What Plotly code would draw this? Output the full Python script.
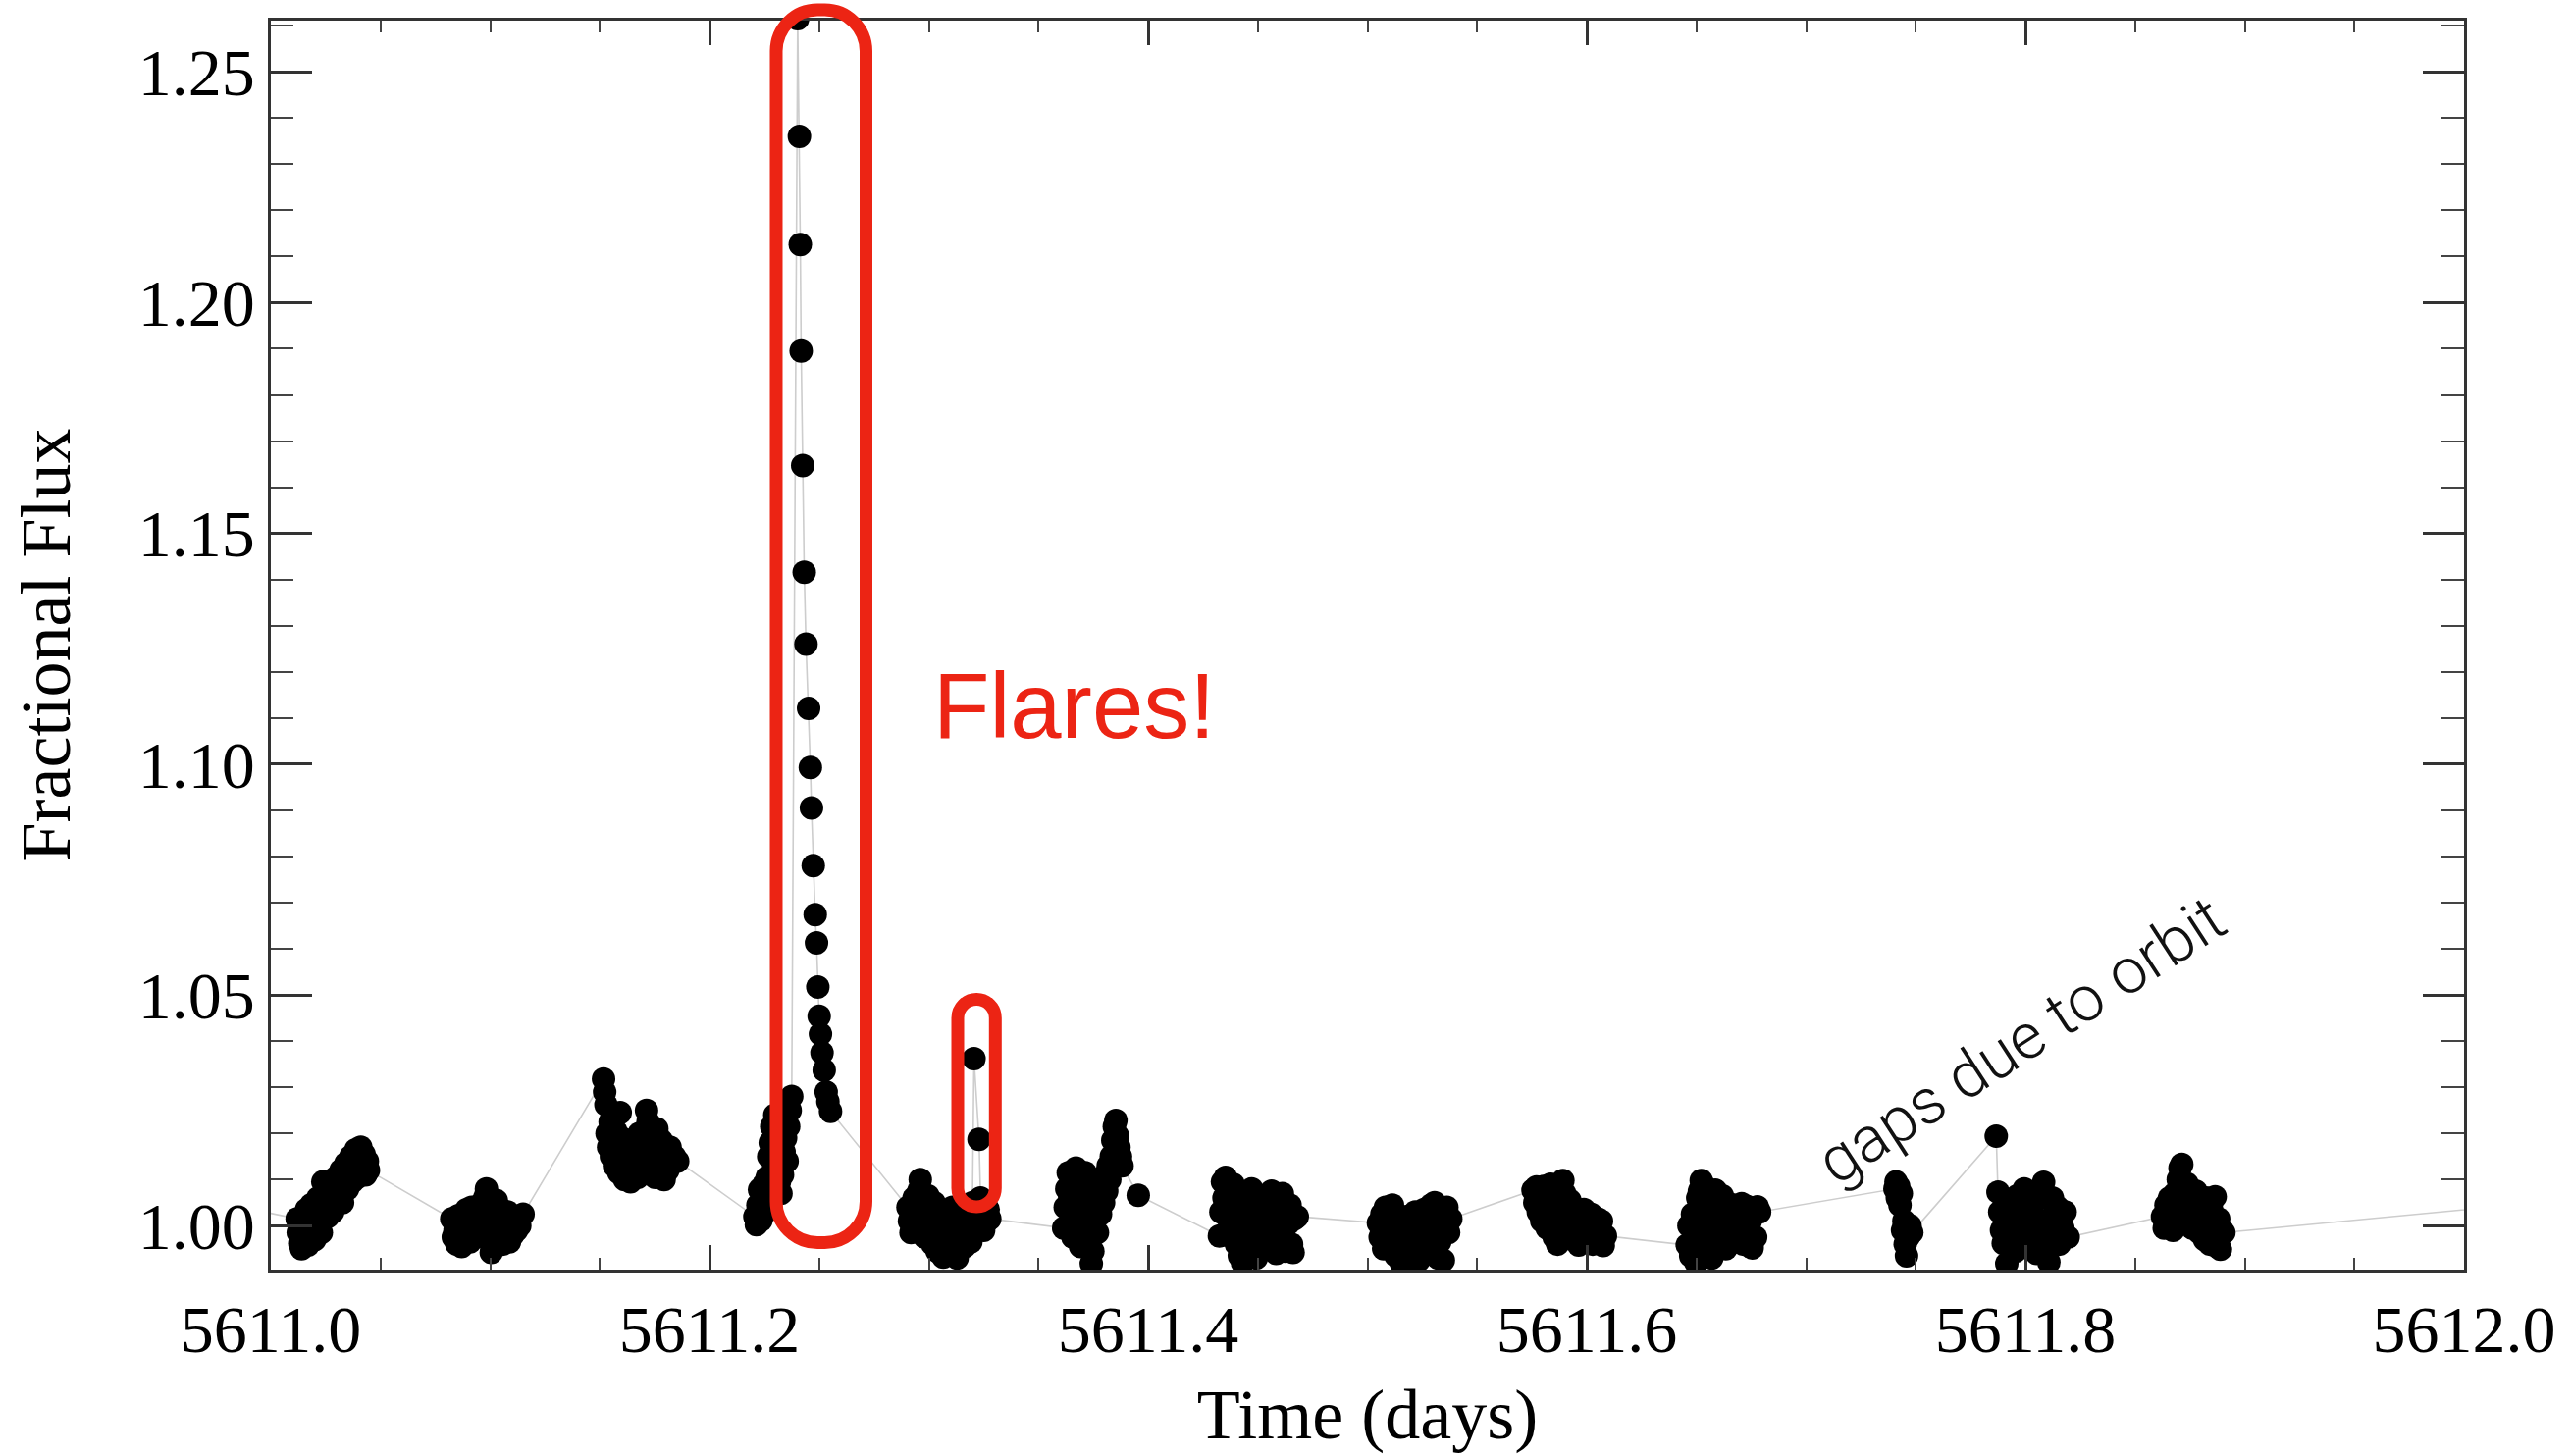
import plotly.graph_objects as go

T0 = 5611.0  # time offset (days)

# ---- light-curve data (time offset from T0, fractional flux) ----
dt_seg0 = [-0.0400]
f_seg0 = [1.0067]

dt_seg1 = [0.0120, 0.0125, 0.0132, 0.0140, 0.0148, 0.0155, 0.0163, 0.0170, 0.0178, 0.0185,
           0.0193, 0.0200, 0.0208, 0.0215, 0.0222, 0.0230, 0.0237, 0.0245, 0.0252, 0.0260,
           0.0267, 0.0275, 0.0282, 0.0290, 0.0297, 0.0305, 0.0312, 0.0320, 0.0327, 0.0335,
           0.0342, 0.0350, 0.0357, 0.0365, 0.0372, 0.0380, 0.0388, 0.0395, 0.0402, 0.0410,
           0.0418, 0.0425, 0.0432, 0.0440, 0.0445]
f_seg1 = [1.0015, 0.9985, 0.9962, 0.9950, 1.0020, 0.9978, 1.0035, 0.9958, 1.0008, 1.0046,
          0.9990, 0.9970, 1.0030, 1.0060, 1.0012, 0.9985, 1.0095, 1.0040, 1.0070, 1.0020,
          1.0055, 1.0090, 1.0030, 1.0075, 1.0105, 1.0060, 1.0085, 1.0120, 1.0050, 1.0095,
          1.0135, 1.0080, 1.0110, 1.0150, 1.0095, 1.0130, 1.0165, 1.0105, 1.0140, 1.0170,
          1.0125, 1.0155, 1.0110, 1.0140, 1.0120]

dt_seg2 = [0.0825, 0.0832, 0.0840, 0.0848, 0.0855, 0.0863, 0.0870, 0.0878, 0.0885, 0.0893,
           0.0900, 0.0908, 0.0915, 0.0923, 0.0930, 0.0938, 0.0945, 0.0953, 0.0960, 0.0968,
           0.0975, 0.0983, 0.0990, 0.0998, 0.1005, 0.1013, 0.1020, 0.1028, 0.1035, 0.1043,
           0.1050, 0.1058, 0.1065, 0.1073, 0.1080, 0.1088, 0.1095, 0.1103, 0.1110, 0.1120,
           0.1135, 0.1150]
f_seg2 = [1.0015, 0.9975, 0.9990, 0.9960, 1.0022, 0.9985, 0.9955, 1.0010, 0.9975, 1.0035,
          0.9995, 0.9965, 1.0040, 1.0005, 0.9980, 1.0025, 0.9990, 1.0045, 1.0010, 0.9975,
          1.0060, 1.0080, 1.0020, 0.9985, 0.9942, 1.0030, 0.9995, 1.0055, 1.0005, 0.9970,
          1.0035, 0.9960, 1.0015, 0.9990, 1.0030, 0.9965, 1.0005, 0.9980, 1.0010, 0.9990,
          1.0000, 1.0025]

dt_seg3 = [0.1517, 0.1522, 0.1528, 0.1533, 0.1540, 0.1547, 0.1553, 0.1560, 0.1567, 0.1573,
           0.1580, 0.1587, 0.1593, 0.1600, 0.1607, 0.1613, 0.1620, 0.1627, 0.1633, 0.1640,
           0.1647, 0.1653, 0.1660, 0.1667, 0.1673, 0.1680, 0.1687, 0.1693, 0.1700, 0.1707,
           0.1713, 0.1720, 0.1727, 0.1733, 0.1740, 0.1747, 0.1753, 0.1760, 0.1767, 0.1773,
           0.1780, 0.1787, 0.1793, 0.1800, 0.1810, 0.1820, 0.1830, 0.1840, 0.1855]
f_seg3 = [1.0318, 1.0290, 1.0262, 1.0200, 1.0170, 1.0225, 1.0150, 1.0185, 1.0130, 1.0205,
          1.0160, 1.0115, 1.0245, 1.0190, 1.0140, 1.0100, 1.0175, 1.0125, 1.0160, 1.0095,
          1.0135, 1.0180, 1.0115, 1.0150, 1.0105, 1.0200, 1.0140, 1.0118, 1.0165, 1.0130,
          1.0250, 1.0225, 1.0170, 1.0120, 1.0190, 1.0145, 1.0105, 1.0210, 1.0160, 1.0125,
          1.0185, 1.0140, 1.0100, 1.0160, 1.0120, 1.0170, 1.0135, 1.0150, 1.0140]

# pre-flare part of the fourth orbit segment
dt_seg4 = [0.2207, 0.2214, 0.2221, 0.2228, 0.2235, 0.2242, 0.2249, 0.2256, 0.2263, 0.2270,
           0.2277, 0.2284, 0.2291, 0.2298, 0.2305, 0.2312, 0.2319, 0.2326, 0.2333, 0.2340,
           0.2347, 0.2354, 0.2361, 0.2368, 0.2375]
f_seg4 = [1.0020, 1.0002, 1.0045, 1.0078, 1.0012, 1.0060, 1.0090, 1.0030, 1.0105, 1.0150,
          1.0180, 1.0215, 1.0165, 1.0240, 1.0195, 1.0130, 1.0095, 1.0070, 1.0110, 1.0160,
          1.0190, 1.0140, 1.0215, 1.0250, 1.0280]

# big flare: peak and decay
dt_flare = [0.2402, 0.2410, 0.2414, 0.2418, 0.2425, 0.2432, 0.2440, 0.2452, 0.2460, 0.2465,
            0.2473, 0.2482, 0.2488, 0.2494, 0.2500, 0.2506, 0.2513, 0.2523, 0.2532, 0.2540,
            0.2552]
f_flare = [1.2615, 1.2360, 1.2126, 1.1895, 1.1647, 1.1416, 1.1260, 1.1121, 1.0993, 1.0905,
           1.0780, 1.0674, 1.0613, 1.0517, 1.0454, 1.0415, 1.0375, 1.0337, 1.0290, 1.0269,
           1.0248]

# fifth segment, with the small flare
dt_seg5 = [0.2905, 0.2912, 0.2919, 0.2926, 0.2933, 0.2940, 0.2947, 0.2954, 0.2961, 0.2968,
           0.2975, 0.2982, 0.2989, 0.2996, 0.3003, 0.3010, 0.3017, 0.3024, 0.3031, 0.3038,
           0.3045, 0.3052, 0.3059, 0.3066, 0.3073, 0.3080, 0.3087, 0.3094, 0.3101, 0.3108,
           0.3115, 0.3122, 0.3129, 0.3136, 0.3143, 0.3150, 0.3157, 0.3164, 0.3171, 0.3178,
           0.3185, 0.3192, 0.3199, 0.3206, 0.3229, 0.3236, 0.3243, 0.3250, 0.3257, 0.3264,
           0.3271, 0.3278]
f_seg5 = [1.0040, 1.0010, 0.9985, 1.0025, 1.0060, 0.9995, 1.0030, 1.0075, 1.0100, 1.0045,
          1.0010, 0.9975, 1.0035, 1.0065, 0.9990, 1.0020, 0.9960, 1.0050, 0.9980, 0.9945,
          1.0010, 0.9965, 1.0030, 0.9932, 0.9990, 1.0015, 0.9955, 1.0005, 0.9970, 1.0040,
          0.9985, 1.0025, 0.9930, 1.0000, 1.0030, 0.9975, 1.0010, 0.9955, 1.0040, 0.9990,
          1.0020, 0.9965, 1.0050, 1.0362, 1.0187, 1.0060, 1.0025, 0.9990, 1.0040, 1.0010,
          1.0035, 1.0015]

dt_seg6 = [0.3615, 0.3622, 0.3629, 0.3636, 0.3643, 0.3650, 0.3657, 0.3664, 0.3671, 0.3678,
           0.3685, 0.3692, 0.3699, 0.3706, 0.3713, 0.3720, 0.3727, 0.3734, 0.3741, 0.3748,
           0.3755, 0.3762, 0.3769, 0.3776, 0.3783, 0.3790, 0.3797, 0.3804, 0.3811, 0.3818,
           0.3825, 0.3832, 0.3839, 0.3846, 0.3853, 0.3860, 0.3867, 0.3874, 0.3881, 0.3955]
f_seg6 = [0.9995, 1.0040, 1.0080, 1.0115, 1.0060, 1.0020, 0.9975, 1.0100, 1.0125, 1.0050,
          0.9990, 0.9955, 1.0030, 1.0085, 1.0115, 1.0065, 1.0005, 0.9965, 0.9918, 0.9945,
          1.0010, 1.0045, 0.9985, 1.0060, 1.0025, 1.0090, 1.0050, 1.0110, 1.0075, 1.0130,
          1.0100, 1.0150, 1.0185, 1.0215, 1.0228, 1.0195, 1.0170, 1.0150, 1.0130, 1.0066]

dt_seg7 = [0.4325, 0.4332, 0.4339, 0.4346, 0.4353, 0.4360, 0.4367, 0.4374, 0.4381, 0.4388,
           0.4395, 0.4402, 0.4409, 0.4416, 0.4423, 0.4430, 0.4437, 0.4444, 0.4451, 0.4458,
           0.4465, 0.4472, 0.4479, 0.4486, 0.4493, 0.4500, 0.4507, 0.4514, 0.4521, 0.4528,
           0.4535, 0.4542, 0.4549, 0.4556, 0.4563, 0.4570, 0.4577, 0.4584, 0.4591, 0.4598,
           0.4605, 0.4612, 0.4619, 0.4626, 0.4633, 0.4640, 0.4647, 0.4654, 0.4661, 0.4668,
           0.4680]
f_seg7 = [0.9978, 1.0030, 1.0095, 1.0060, 1.0105, 1.0020, 0.9990, 1.0070, 1.0040, 1.0090,
          1.0010, 0.9960, 1.0025, 0.9935, 1.0000, 0.9920, 0.9965, 1.0035, 1.0005, 0.9945,
          1.0060, 1.0080, 0.9990, 1.0050, 0.9930, 1.0020, 0.9975, 1.0045, 0.9955, 1.0010,
          1.0065, 0.9985, 1.0030, 0.9950, 1.0075, 1.0000, 1.0060, 0.9940, 1.0025, 0.9965,
          1.0050, 1.0070, 0.9990, 0.9945, 1.0030, 1.0005, 1.0045, 0.9960, 0.9942, 1.0015,
          1.0020]

dt_seg8 = [0.5050, 0.5058, 0.5066, 0.5074, 0.5082, 0.5090, 0.5098, 0.5106, 0.5114, 0.5122,
           0.5130, 0.5138, 0.5146, 0.5154, 0.5162, 0.5170, 0.5178, 0.5186, 0.5194, 0.5202,
           0.5210, 0.5218, 0.5226, 0.5234, 0.5242, 0.5250, 0.5258, 0.5266, 0.5274, 0.5282,
           0.5290, 0.5298, 0.5306, 0.5314, 0.5322, 0.5330, 0.5338, 0.5346, 0.5354, 0.5362,
           0.5370, 0.5380]
f_seg8 = [1.0006, 0.9975, 1.0025, 0.9950, 1.0040, 0.9990, 0.9960, 1.0030, 1.0045, 0.9985,
          0.9935, 1.0010, 0.9965, 0.9920, 1.0005, 0.9945, 1.0020, 0.9975, 0.9912, 1.0000,
          0.9955, 1.0030, 0.9985, 0.9925, 1.0015, 0.9960, 1.0035, 0.9990, 0.9945, 1.0020,
          1.0045, 0.9975, 1.0050, 1.0010, 0.9930, 0.9965, 1.0030, 0.9925, 1.0000, 1.0040,
          0.9985, 1.0015]

dt_seg9 = [0.5755, 0.5763, 0.5771, 0.5779, 0.5787, 0.5795, 0.5803, 0.5811, 0.5819, 0.5827,
           0.5835, 0.5843, 0.5851, 0.5859, 0.5867, 0.5875, 0.5883, 0.5891, 0.5899, 0.5907,
           0.5915, 0.5923, 0.5931, 0.5939, 0.5947, 0.5955, 0.5963, 0.5971, 0.5979, 0.5987,
           0.5995, 0.6003, 0.6011, 0.6019, 0.6027, 0.6035, 0.6043, 0.6051, 0.6059, 0.6067,
           0.6075, 0.6085]
f_seg9 = [1.0077, 1.0050, 1.0084, 1.0030, 1.0065, 1.0010, 1.0085, 1.0045, 0.9995, 1.0070,
          1.0090, 1.0035, 0.9975, 1.0055, 0.9960, 1.0015, 1.0080, 1.0098, 1.0070, 1.0025,
          0.9990, 1.0055, 1.0015, 1.0040, 0.9980, 1.0030, 0.9958, 1.0010, 0.9985, 1.0035,
          0.9970, 1.0005, 0.9990, 1.0025, 0.9960, 1.0000, 0.9975, 1.0015, 0.9985, 1.0010,
          0.9957, 0.9978]

dt_seg10 = [0.6458, 0.6466, 0.6474, 0.6482, 0.6490, 0.6498, 0.6506, 0.6514, 0.6522, 0.6530,
            0.6538, 0.6546, 0.6554, 0.6562, 0.6570, 0.6578, 0.6586, 0.6594, 0.6602, 0.6610,
            0.6618, 0.6626, 0.6634, 0.6642, 0.6650, 0.6658, 0.6666, 0.6674, 0.6682, 0.6690,
            0.6698, 0.6706, 0.6714, 0.6722, 0.6730, 0.6738, 0.6746, 0.6754, 0.6762, 0.6770,
            0.6778, 0.6788]
f_seg10 = [0.9958, 1.0000, 0.9935, 1.0025, 0.9975, 0.9920, 1.0060, 1.0075, 1.0098, 0.9990,
           1.0085, 1.0035, 0.9955, 1.0010, 0.9930, 1.0060, 1.0077, 0.9995, 1.0040, 0.9970,
           1.0065, 1.0020, 0.9950, 1.0049, 1.0005, 0.9980, 1.0045, 1.0015, 0.9965, 1.0030,
           0.9990, 1.0048, 0.9960, 1.0020, 1.0042, 0.9985, 1.0010, 0.9952, 1.0035, 0.9975,
           1.0041, 1.0030]

dt_seg11a = [0.7405, 0.7410, 0.7416, 0.7422, 0.7428, 0.7434, 0.7440, 0.7446, 0.7452, 0.7458,
             0.7466, 0.7474, 0.7482]
f_seg11a = [1.0080, 1.0095, 1.0060, 1.0085, 1.0045, 1.0070, 0.9990, 1.0010, 0.9960, 0.9935,
            0.9975, 1.0000, 0.9985]

dt_seg11b = [0.7867, 0.7875, 0.7883, 0.7891, 0.7899, 0.7907, 0.7915, 0.7923, 0.7931, 0.7939,
             0.7947, 0.7955, 0.7963, 0.7971, 0.7979, 0.7987, 0.7995, 0.8003, 0.8011, 0.8019,
             0.8027, 0.8035, 0.8043, 0.8051, 0.8059, 0.8067, 0.8075, 0.8083, 0.8091, 0.8099,
             0.8107, 0.8115, 0.8123, 0.8131, 0.8139, 0.8147, 0.8155, 0.8163, 0.8171, 0.8181,
             0.8195]
f_seg11b = [1.0194, 1.0073, 1.0030, 0.9990, 0.9962, 1.0045, 0.9918, 1.0010, 0.9975, 1.0055,
            1.0020, 0.9945, 1.0065, 1.0000, 0.9965, 1.0040, 1.0080, 1.0015, 0.9985, 1.0050,
            1.0060, 1.0025, 0.9955, 0.9940, 1.0005, 1.0060, 0.9980, 1.0094, 0.9950, 1.0010,
            0.9921, 0.9970, 1.0060, 1.0025, 0.9990, 1.0040, 0.9960, 1.0015, 0.9995, 1.0030,
            0.9975]

dt_seg12 = [0.8625, 0.8633, 0.8641, 0.8649, 0.8657, 0.8665, 0.8673, 0.8681, 0.8689, 0.8697,
            0.8705, 0.8713, 0.8721, 0.8729, 0.8737, 0.8745, 0.8753, 0.8761, 0.8769, 0.8777,
            0.8785, 0.8793, 0.8801, 0.8809, 0.8817, 0.8825, 0.8833, 0.8841, 0.8849, 0.8857,
            0.8865, 0.8873, 0.8881, 0.8889, 0.8897, 0.8905]
f_seg12 = [1.0020, 0.9995, 1.0045, 1.0010, 1.0060, 1.0030, 0.9990, 1.0070, 1.0040, 1.0100,
           1.0125, 1.0133, 1.0085, 1.0050, 1.0091, 1.0020, 1.0065, 0.9995, 1.0040, 1.0075,
           1.0010, 0.9985, 1.0050, 1.0025, 0.9970, 1.0060, 1.0005, 0.9960, 1.0035, 0.9980,
           1.0063, 0.9955, 1.0015, 0.9949, 0.9990, 0.9985]

dt_seg13 = [1.0400]
f_seg13 = [1.0053]

segments = [
    (dt_seg0, f_seg0), (dt_seg1, f_seg1), (dt_seg2, f_seg2), (dt_seg3, f_seg3),
    (dt_seg4, f_seg4), (dt_flare, f_flare), (dt_seg5, f_seg5), (dt_seg6, f_seg6),
    (dt_seg7, f_seg7), (dt_seg8, f_seg8), (dt_seg9, f_seg9), (dt_seg10, f_seg10),
    (dt_seg11a, f_seg11a), (dt_seg11b, f_seg11b), (dt_seg12, f_seg12), (dt_seg13, f_seg13),
]
time = []
flux = []
for dts, fs in segments:
    time += [T0 + d for d in dts]
    flux += list(fs)

x_ticks = [5611.0, 5611.2, 5611.4, 5611.6, 5611.8, 5612.0]
y_ticks = [1.00, 1.05, 1.10, 1.15, 1.20, 1.25]

# ---- figure geometry (pixels) ----
W, H = 2621, 1484
ML, MR, MT, MB = 276, 110, 21, 190
PW, PH = W - ML - MR, H - MT - MB

def px_to_paper(px, py):
    return (px - ML) / PW, (H - MB - py) / PH

def rounded_box(x0, y0, x1, y1, r):
    # pixel rectangle (top-left / bottom-right) -> rounded path in paper coords
    ax, ay = px_to_paper(x0, y1)  # bottom-left
    bx, by = px_to_paper(x1, y0)  # top-right
    rx, ry = r / PW, r / PH
    k = 0.5523
    p = []
    p.append(f"M {ax+rx},{ay}")
    p.append(f"L {bx-rx},{ay}")
    p.append(f"C {bx-rx+k*rx},{ay} {bx},{ay+ry-k*ry} {bx},{ay+ry}")
    p.append(f"L {bx},{by-ry}")
    p.append(f"C {bx},{by-ry+k*ry} {bx-rx+k*rx},{by} {bx-rx},{by}")
    p.append(f"L {ax+rx},{by}")
    p.append(f"C {ax+rx-k*rx},{by} {ax},{by-ry+k*ry} {ax},{by-ry}")
    p.append(f"L {ax},{ay+ry}")
    p.append(f"C {ax},{ay+ry-k*ry} {ax+rx-k*rx},{ay} {ax+rx},{ay}")
    p.append("Z")
    return " ".join(p)

RED = "#EC2414"
serif = "Liberation Serif, Times New Roman, serif"
sans = "Liberation Sans, Helvetica, Arial, sans-serif"

fig = go.Figure()
fig.add_trace(go.Scatter(
    x=time, y=flux, mode="lines+markers",
    line=dict(color="#cdcdcd", width=1.6),
    marker=dict(color="black", size=24, line=dict(width=0)),
    showlegend=False, hoverinfo="x+y",
))

axis_common = dict(
    showgrid=False, zeroline=False, showline=True, linecolor="#333333", linewidth=2.5,
    mirror="allticks", ticks="inside", tickcolor="#333333", tickwidth=2.5,
    tickfont=dict(family=serif, size=68, color="black"),
)

fig.update_xaxes(
    **axis_common, range=[5611.0, 5612.0], tickmode="array", tickvals=x_ticks,
    ticktext=[f"{v:.1f}" for v in x_ticks], ticklen=25,
    minor=dict(tickmode="linear", tick0=5611.0, dtick=0.05, ticks="inside", ticklen=12,
               tickwidth=2, tickcolor="#444444"),
    title=dict(text="Time (days)", font=dict(family=serif, size=72, color="black"), standoff=24),
)
fig.update_yaxes(
    **axis_common, range=[0.9905, 1.2611], tickmode="array", tickvals=y_ticks,
    ticktext=[f"{v:.2f}" for v in y_ticks], ticklen=42,
    minor=dict(tickmode="linear", tick0=1.0, dtick=0.01, ticks="inside", ticklen=23,
               tickwidth=2, tickcolor="#444444"),
    title=dict(text="Fractional Flux", font=dict(family=serif, size=72, color="black"), standoff=46),
)

fig.add_shape(type="path", xref="paper", yref="paper", layer="above",
              path=rounded_box(791, 10, 882.5, 1266.5, 42),
              line=dict(color=RED, width=13), fillcolor="rgba(0,0,0,0)")
fig.add_shape(type="path", xref="paper", yref="paper", layer="above",
              path=rounded_box(976, 1018.5, 1014.3, 1230, 19),
              line=dict(color=RED, width=13), fillcolor="rgba(0,0,0,0)")

fx, fy = px_to_paper(1094, 720)
fig.add_annotation(text="Flares!", xref="paper", yref="paper", x=fx, y=fy,
                   xanchor="center", yanchor="middle", showarrow=False,
                   font=dict(family=sans, size=94, color=RED))
gx, gy = px_to_paper(2060, 1060)
fig.add_annotation(text="gaps due to orbit", xref="paper", yref="paper", x=gx, y=gy,
                   xanchor="center", yanchor="middle", showarrow=False, textangle=-33,
                   font=dict(family="Roboto, Lato, Liberation Sans, sans-serif", size=65,
                             color="#111111", weight=300))

fig.update_layout(
    width=W, height=H, autosize=False,
    margin=dict(l=ML, r=MR, t=MT, b=MB, pad=0),
    paper_bgcolor="white", plot_bgcolor="white",
    showlegend=False,
)

fig.write_html("out.html")
